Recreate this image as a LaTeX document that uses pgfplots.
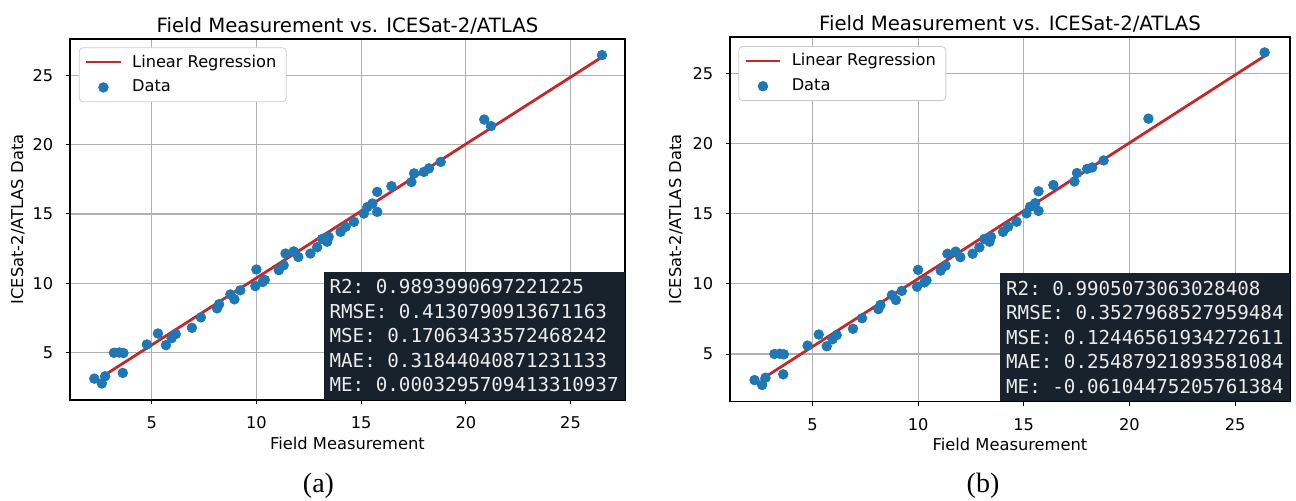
\documentclass[border=0pt]{standalone}
\usepackage{fontspec}
\setmainfont{DejaVu Sans}
\newfontfamily\monofont{DejaVu Sans Mono}
\newfontfamily\capfont{Liberation Serif}
\usepackage{pgfplots}
\usepackage{pgfplotstable}
\pgfplotsset{compat=1.18}
\definecolor{tabblue}{HTML}{1F77B4}
\definecolor{tabred}{HTML}{C8272A}
\definecolor{boxbg}{HTML}{17222D}
\definecolor{gridgray}{HTML}{B0B0B0}

\pgfplotstableread{
x y
2.26 3.14
2.62 2.79
2.78 3.31
3.20 5.00
3.45 5.02
3.65 4.98
3.62 3.55
4.77 5.60
5.30 6.39
5.68 5.55
5.95 6.05
6.15 6.35
6.92 6.80
7.35 7.55
8.12 8.20
8.22 8.50
8.76 9.20
8.95 8.85
9.23 9.50
9.95 9.80
10.00 11.00
10.30 10.10
10.40 10.25
11.07 10.95
11.30 11.30
11.39 12.15
11.78 12.30
12.00 11.90
12.58 12.15
12.90 12.60
13.14 13.20
13.38 13.00
13.45 13.35
14.02 13.71
14.26 14.07
14.66 14.43
15.13 15.03
15.30 15.50
15.54 15.75
15.77 15.15
15.77 16.59
16.45 17.00
17.40 17.30
17.53 17.92
18.00 18.03
18.24 18.28
18.80 18.75
20.88 21.80
21.20 21.33
26.50 26.44
}\dataA

\pgfplotstableread{
x y
2.26 3.14
2.62 2.79
2.78 3.31
3.20 5.00
3.45 5.02
3.65 4.98
3.62 3.55
4.77 5.60
5.30 6.39
5.68 5.55
5.95 6.05
6.15 6.35
6.92 6.80
7.35 7.55
8.12 8.20
8.22 8.50
8.76 9.20
8.95 8.85
9.23 9.50
9.95 9.80
10.00 11.00
10.30 10.10
10.40 10.25
11.07 10.95
11.30 11.30
11.39 12.15
11.78 12.30
12.00 11.90
12.58 12.15
12.90 12.60
13.14 13.20
13.38 13.00
13.45 13.35
14.02 13.71
14.26 14.07
14.66 14.43
15.13 15.03
15.30 15.50
15.54 15.75
15.70 15.20
15.70 16.60
16.40 17.05
17.40 17.30
17.52 17.90
18.00 18.20
18.24 18.30
18.78 18.80
20.90 21.78
26.40 26.50
}\dataB

\tikzset{
  boxstyle/.style={fill=boxbg, text=white!92!black, anchor=south east, inner xsep=3pt, inner ysep=3.75pt,
    align=left, font=\monofont\fontsize{9.6}{12.3}\selectfont\frenchspacing},
}
\pgfplotsset{
  mystyle/.style={
    scale only axis,
    xmin=1.1, xmax=27.6, ymin=1.6, ymax=27.6,
    xtick={5,10,15,20,25}, ytick={5,10,15,20,25},
    grid=major,
    grid style={gridgray, line width=0.55pt},
    axis line style={black, line width=0.6pt},
    tick align=outside, tick pos=left, major tick length=2.2pt,
    tick style={black, line width=0.5pt},
    /pgf/number format/assume math mode=true,
    ticklabel style={font=\fontsize{8.1}{9.7}\selectfont},
    xticklabel style={inner sep=0pt, anchor=north, yshift=-6pt},
    yticklabel style={inner sep=0pt, anchor=east, xshift=-6pt},
    every axis title shift=0pt,
    title={Field Measurement vs. ICESat-2/ATLAS},
    title style={font=\fontsize{9.85}{12}\selectfont, at={(axis description cs:0.5,1.019)}, anchor=base, inner sep=0pt},
    xlabel={Field Measurement}, ylabel={ICESat-2/ATLAS Data},
    legend style={anchor=north west, draw=black!20, rounded corners=2pt, fill=white,
      font=\fontsize{8.1}{9.7}\selectfont, inner xsep=3pt, inner ysep=1.5pt, row sep=1pt, cells={anchor=west},
      /tikz/every odd column/.append style={column sep=3.3pt}},
  },
}

\begin{document}
\begin{tikzpicture}
\path[use as bounding box] (0,0) rectangle (648pt,250pt);

\begin{axis}[mystyle,
  at={(35pt,50pt)}, anchor=south west, width=277.5pt, height=180.5pt,
  every axis x label/.style={at={(axis description cs:0.5,-0.1017)}, anchor=north, inner sep=0pt, font=\fontsize{8.15}{9.8}\selectfont},
  every axis y label/.style={at={(axis description cs:-0.081,0.5)}, rotate=90, anchor=south, inner sep=0pt, font=\fontsize{8.15}{9.8}\selectfont},
  legend style={at={(axis description cs:0.016,0.977)}},
]
\addlegendimage{tabred, line width=1.1pt}
\addlegendentry{Linear Regression}
\addlegendimage{only marks, mark=*, mark size=2.4pt, mark options={fill=tabblue, draw=tabblue}}
\addlegendentry{Data}
\addplot[only marks, mark=*, mark size=2.4pt, mark options={fill=tabblue, draw=tabblue}, forget plot] table {\dataA};
\addplot[tabred, line width=1.4pt, forget plot] coordinates {(2.55,3.2) (26.5,26.3)};
\node[boxstyle] at (rel axis cs:1,0) {R2: 0.9893990697221225\\RMSE: 0.4130790913671163\\MSE: 0.17063433572468242\\MAE: 0.31844040871231133\\ME: 0.0003295709413310937};
\end{axis}

\begin{axis}[mystyle,
  at={(365pt,49.15pt)}, anchor=south west, width=280pt, height=182.35pt,
  every axis x label/.style={at={(axis description cs:0.5,-0.0995)}, anchor=north, inner sep=0pt, font=\fontsize{8.15}{9.8}\selectfont},
  every axis y label/.style={at={(axis description cs:-0.084,0.5)}, rotate=90, anchor=south, inner sep=0pt, font=\fontsize{8.15}{9.8}\selectfont},
  legend style={at={(axis description cs:0.015,0.975)}},
]
\addlegendimage{tabred, line width=1.1pt}
\addlegendentry{Linear Regression}
\addlegendimage{only marks, mark=*, mark size=2.4pt, mark options={fill=tabblue, draw=tabblue}}
\addlegendentry{Data}
\addplot[only marks, mark=*, mark size=2.4pt, mark options={fill=tabblue, draw=tabblue}, forget plot] table {\dataB};
\addplot[tabred, line width=1.4pt, forget plot] coordinates {(2.55,3.15) (26.4,26.25)};
\node[boxstyle] at (rel axis cs:1,0) {R2: 0.9905073063028408\\RMSE: 0.3527968527959484\\MSE: 0.12446561934272611\\MAE: 0.25487921893581084\\ME: -0.06104475205761384};
\end{axis}

\node[anchor=base, font=\capfont\fontsize{14}{16}\selectfont] at (159.25pt,3.75pt) {(a)};
\node[anchor=base, font=\capfont\fontsize{14}{16}\selectfont] at (491.5pt,3.75pt) {(b)};
\end{tikzpicture}
\end{document}
